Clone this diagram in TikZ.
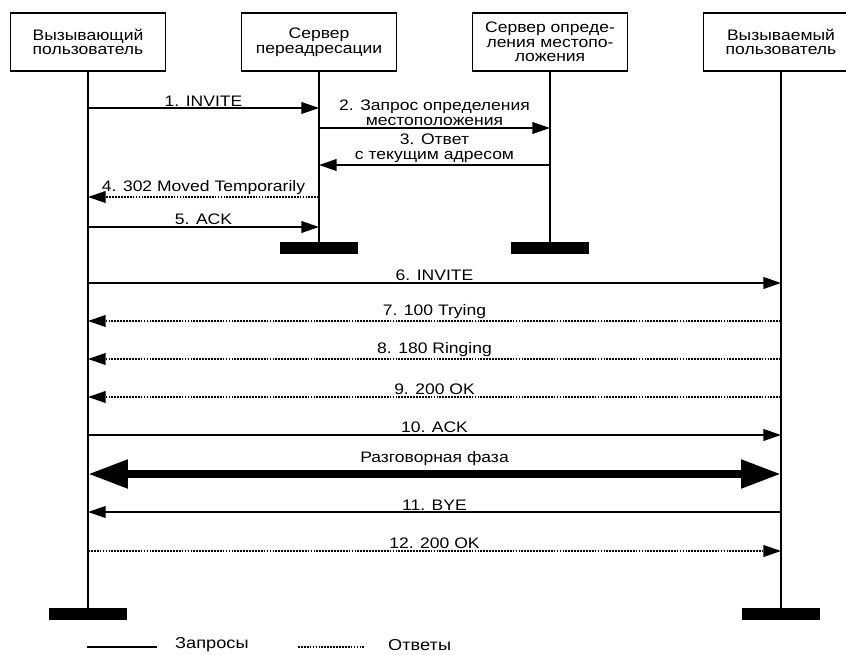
\documentclass[tikz,border=0pt]{standalone}
\usepackage{fontspec}
\setmainfont{Liberation Sans}[FakeStretch = 1.15]
\usepackage{tikz}
\usetikzlibrary{arrows.meta}
\usetikzlibrary{positioning}
\tikzset{party/.style = {draw, line width = 1.5pt, minimum width = 4.65cm, minimum height = 1.74cm, align = center, inner sep = 0, font = \fontsize{13}{12.5}\selectfont}}
\tikzset{endbar/.style = {fill, inner sep = 0, minimum width = 2.34cm, minimum height = 0.36cm}}
\tikzset{life/.style = {line width = 1.2pt}}
\tikzset{req/.style = {line width = 1.2pt, -{Triangle[length = 15pt, width = 10pt]}}}
\tikzset{resp/.style = {req, dash pattern = on 1.5pt off 1pt}}
\tikzset{talk/.style = {line width = 6.8pt, {Triangle[length = 34pt, width = 23pt]}-{Triangle[length = 34pt, width = 23pt]}}}
\tikzset{msg/.style = {above, align = center, inner sep = 1pt, font = \fontsize{13}{13.5}\selectfont}}
\tikzset{legendtext/.style = {anchor = west, inner sep = 0, font = \fontsize{13.5}{14}\selectfont}}

\begin{document}
\begin{tikzpicture}[x = 0.03cm, y = -0.03cm]
  \useasboundingbox (0, 0) rectangle (846, 655);

  \node [party] (caller) at (88, 42) {Вызывающий\\пользователь};
  \node [party] (redir) at (319, 42) {Сервер\\переадресации};
  \node [party] (locsrv) at (550, 42) {Сервер опреде-\\ления местопо-\\ложения};
  \node [party] (callee) at (781, 42) {Вызываемый\\пользователь};

  \node [endbar] (redirend) at (319, 248.5) {};
  \node [endbar] (locend) at (550, 248.5) {};
  \node [endbar] (callerend) at (88, 614) {};
  \node [endbar] (calleeend) at (781, 614) {};

  \draw [life] (caller) -- (callerend);
  \draw [life] (redir) -- (redirend);
  \draw [life] (locsrv) -- (locend);
  \draw [life] (callee) -- (calleeend);

  \draw [req] (caller |- 0, 108) -- (redir |- 0, 108) node [msg, midway] {1. INVITE};
  \draw [req] (redir |- 0, 128) -- (locsrv |- 0, 128) node [msg, midway] {2. Запрос определения\\местоположения};
  \draw [req] (locsrv |- 0, 165) -- (redir |- 0, 165) node [msg, midway] {3. Ответ\\с текущим адресом};
  \draw [resp] (redir |- 0, 197) -- (caller |- 0, 197) node [msg, midway] {4. 302 Moved Temporarily};
  \draw [req] (caller |- 0, 227) -- (redir |- 0, 227) node [msg, midway] {5. ACK};

  \draw [req] (caller |- 0, 283) -- (callee |- 0, 283) node [msg, midway] {6. INVITE};
  \draw [resp] (callee |- 0, 321) -- (caller |- 0, 321) node [msg, midway] {7. 100 Trying};
  \draw [resp] (callee |- 0, 359) -- (caller |- 0, 359) node [msg, midway] {8. 180 Ringing};
  \draw [resp] (callee |- 0, 397) -- (caller |- 0, 397) node [msg, midway] {9. 200 OK};
  \draw [req] (caller |- 0, 435) -- (callee |- 0, 435) node [msg, midway] {10. ACK};
  \draw [talk] (caller |- 0, 474) -- (callee |- 0, 474) node [msg, midway, yshift = 3pt] {Разговорная фаза};
  \draw [req] (callee |- 0, 512) -- (caller |- 0, 512) node [msg, midway] {11. BYE};
  \draw [resp] (caller |- 0, 551) -- (callee |- 0, 551) node [msg, midway] {12. 200 OK};

  \coordinate (reqa) at (87, 647);
  \coordinate (reqb) at (157, 647);
  \coordinate (respa) at (298, 647);
  \coordinate (respb) at (365, 647);
  \draw [life] (reqa) -- (reqb);
  \draw [life, dash pattern = on 1.5pt off 1pt] (respa) -- (respb);
  \node [legendtext] (reqtext) at (175, 645) {Запросы};
  \node [legendtext] (resptext) at (388, 645) {Ответы};
\end{tikzpicture}
\end{document}
